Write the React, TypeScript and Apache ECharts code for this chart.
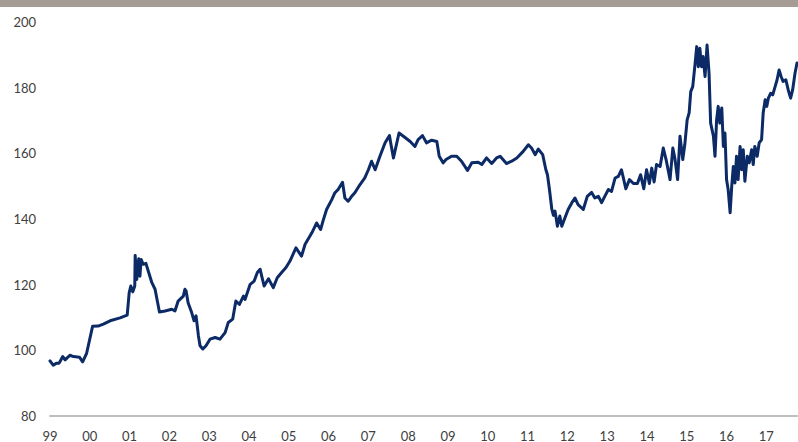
import React, { useEffect, useRef } from "react";
import * as echarts from "echarts";

// decimal year of each observation
const dates: number[] = [
  1999.0, 1999.08, 1999.17, 1999.23, 1999.32, 1999.38, 1999.5, 1999.59, 1999.74, 1999.82, 1999.92,
  2000.07, 2000.21, 2000.34, 2000.51, 2000.76, 2000.94, 2000.99,
  2001.03, 2001.08, 2001.13, 2001.14, 2001.18, 2001.23, 2001.26, 2001.29, 2001.34, 2001.41, 2001.47, 2001.56, 2001.64, 2001.75, 2001.89,
  2002.06, 2002.14, 2002.22, 2002.35, 2002.39, 2002.42, 2002.47, 2002.56, 2002.62, 2002.67, 2002.73, 2002.77, 2002.84, 2002.92,
  2003.02, 2003.15, 2003.27, 2003.4, 2003.48, 2003.59, 2003.67, 2003.76, 2003.86, 2003.9,
  2004.03, 2004.13, 2004.21, 2004.28, 2004.32, 2004.38, 2004.49, 2004.61, 2004.71, 2004.82, 2004.93,
  2005.03, 2005.18, 2005.32, 2005.41, 2005.58, 2005.7, 2005.8, 2005.87, 2005.95,
  2006.08, 2006.16, 2006.24, 2006.35, 2006.41, 2006.49, 2006.58, 2006.66, 2006.79, 2006.91,
  2007.0, 2007.08, 2007.17, 2007.29, 2007.42, 2007.53, 2007.56, 2007.63, 2007.77, 2007.88,
  2008.05, 2008.17, 2008.25, 2008.36, 2008.46, 2008.59, 2008.72, 2008.78, 2008.88, 2008.95,
  2009.09, 2009.22, 2009.34, 2009.49, 2009.6, 2009.76, 2009.85, 2009.97,
  2010.1, 2010.22, 2010.31, 2010.47, 2010.6, 2010.73, 2010.89,
  2011.02, 2011.1, 2011.19, 2011.27, 2011.38, 2011.46, 2011.5, 2011.55, 2011.61, 2011.65, 2011.69, 2011.75, 2011.81, 2011.86, 2011.94,
  2012.02, 2012.11, 2012.19, 2012.27, 2012.4, 2012.5, 2012.61, 2012.69, 2012.78, 2012.86, 2012.94,
  2013.03, 2013.11, 2013.2, 2013.28, 2013.36, 2013.47, 2013.56, 2013.66, 2013.76, 2013.84, 2013.92, 2013.99,
  2014.06, 2014.12, 2014.18, 2014.24, 2014.33, 2014.41, 2014.48, 2014.58, 2014.65, 2014.7, 2014.77, 2014.83, 2014.9, 2014.95,
  2015.01, 2015.06, 2015.1, 2015.15, 2015.21, 2015.25, 2015.29, 2015.33, 2015.37, 2015.41, 2015.46, 2015.51, 2015.56, 2015.6, 2015.67, 2015.71, 2015.75, 2015.79, 2015.83, 2015.88, 2015.92, 2015.96,
  2016.0, 2016.04, 2016.09, 2016.13, 2016.17, 2016.21, 2016.25, 2016.29, 2016.34, 2016.38, 2016.42, 2016.46, 2016.52, 2016.57, 2016.63, 2016.67, 2016.71, 2016.77, 2016.82, 2016.88, 2016.92, 2016.97,
  2017.01, 2017.05, 2017.11, 2017.16, 2017.22, 2017.27, 2017.32, 2017.37, 2017.42, 2017.49, 2017.55, 2017.61, 2017.66, 2017.72, 2017.77,
];

const values: number[] = [
  96.8, 95.5, 96.1, 96.1, 98.1, 97.1, 98.5, 98.1, 97.9, 96.5, 99.1,
  107.3, 107.4, 108.0, 109.0, 109.9, 110.7, 117.6,
  119.6, 117.8, 119.6, 128.9, 121.6, 127.9, 122.6, 127.7, 126.2, 126.5, 124.1, 120.6, 118.6, 111.7, 112.0,
  112.5, 112.0, 115.0, 116.5, 118.6, 118.1, 114.5, 111.5, 109.0, 110.5, 104.4, 101.4, 100.4, 101.4,
  103.4, 103.9, 103.4, 105.4, 108.5, 109.5, 115.0, 114.0, 116.5, 115.5,
  120.1, 121.1, 123.7, 124.7, 122.6, 119.6, 121.8, 119.1, 122.1, 123.7, 125.2,
  127.2, 131.2, 128.7, 132.3, 135.8, 138.8, 136.8, 139.8, 142.9,
  145.9, 148.0, 149.0, 151.2, 146.4, 145.4, 146.9, 148.0, 150.5, 152.5,
  155.0, 157.6, 155.0, 159.1, 163.2, 165.4, 163.2, 158.6, 166.2, 165.2,
  163.6, 162.1, 164.2, 165.4, 163.2, 164.0, 163.6, 159.1, 157.1, 158.1,
  159.1, 159.1, 157.6, 154.8, 157.1, 157.3, 156.6, 158.6,
  156.9, 158.6, 159.1, 156.9, 157.6, 158.6, 160.6,
  162.6, 161.6, 159.6, 161.3, 159.6, 155.0, 153.5, 149.0, 142.9, 141.1, 142.4, 137.8, 140.9, 137.8, 140.4,
  142.9, 144.9, 146.4, 144.4, 142.9, 146.9, 148.1, 146.4, 146.9, 145.0, 146.9,
  149.0, 148.4, 152.5, 153.0, 155.0, 149.2, 152.0, 150.8, 150.8, 153.5, 149.2, 155.0,
  150.8, 155.5, 151.3, 156.6, 156.0, 161.6, 158.1, 152.0, 161.6, 158.6, 152.0, 165.2, 158.1, 162.6,
  170.2, 172.3, 178.8, 180.3, 187.4, 192.5, 186.4, 192.0, 186.4, 189.5, 183.4, 193.0, 184.4, 169.2, 165.2, 159.1, 170.2, 174.3, 169.2, 173.8, 162.1, 166.2,
  152.0, 149.0, 141.9, 150.0, 156.0, 151.0, 159.1, 152.0, 162.1, 155.0, 161.1, 151.5, 159.1, 157.1, 161.1, 156.6, 162.1, 159.1, 163.2, 164.2, 172.3, 176.3,
  174.3, 176.8, 178.3, 177.8, 180.3, 182.4, 185.4, 183.4, 181.9, 182.4, 179.3, 176.8, 179.3, 184.4, 187.5,
];

const yTicks = { min: 80, max: 200, step: 20 };
const xRange = { min: 1999, max: 2017.77, step: 1 };

export default function App() {
  const ref = useRef<HTMLDivElement>(null);
  useEffect(() => {
    if (!ref.current) return;
    const chart = echarts.init(ref.current, undefined, { renderer: "svg" });
    const seriesData = dates.map((d, i) => [d, values[i]]);
    chart.setOption({
      animation: false,
      backgroundColor: "#ffffff",
      textStyle: { fontFamily: "Lato, 'Open Sans', sans-serif" },
      graphic: [
        {
          type: "rect",
          left: 0,
          top: 0,
          shape: { width: 798, height: 7 },
          style: { fill: "#a69c96" },
          silent: true,
        },
      ],
      grid: { left: 50, right: 1, top: 22, bottom: 25, containLabel: false },
      xAxis: {
        type: "value",
        min: xRange.min,
        max: xRange.max,
        interval: xRange.step,
        axisLine: { show: true, lineStyle: { color: "#bfbfbf", width: 2 } },
        axisTick: { show: false },
        splitLine: { show: false },
        axisLabel: {
          margin: 13,
          color: "#404040",
          fontSize: 13,
          fontFamily: "Lato, 'Open Sans', sans-serif",
          showMaxLabel: false,
          formatter: (v: number) => {
            const y = Math.round(v);
            if (Math.abs(v - y) > 0.01) return "";
            return String(y % 100).padStart(2, "0");
          },
        },
      },
      yAxis: {
        type: "value",
        min: yTicks.min,
        max: yTicks.max,
        interval: yTicks.step,
        axisLine: { show: false },
        axisTick: { show: false },
        splitLine: { show: false },
        axisLabel: {
          margin: 14,
          color: "#404040",
          fontSize: 13,
          fontFamily: "Lato, 'Open Sans', sans-serif",
        },
      },
      series: [
        {
          type: "line",
          data: seriesData,
          showSymbol: false,
          symbol: "none",
          clip: false,
          lineStyle: { color: "#0c2a66", width: 3, join: "round", cap: "round" },
        },
      ],
    });
    return () => chart.dispose();
  }, []);
  return (
    <div
      ref={ref}
      style={{ position: "fixed", left: 0, top: 0, width: 798, height: 442 }}
    />
  );
}
